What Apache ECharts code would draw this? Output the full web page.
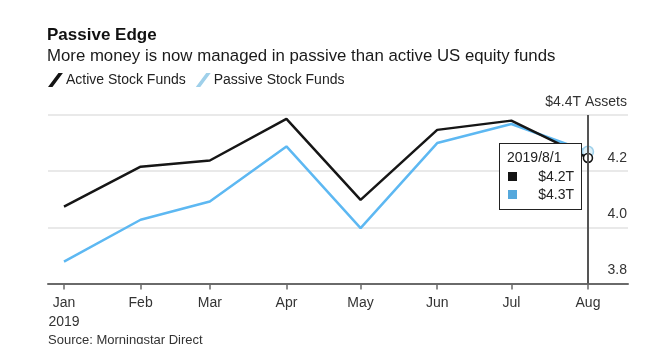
<!DOCTYPE html>
<html>
<head>
<meta charset="utf-8">
<script src="https://cdn.jsdelivr.net/npm/echarts@6/dist/echarts.min.js"></script>
<style>
  html, body { margin: 0; padding: 0; background: #fff; }
  #chart { width: 660px; height: 344px; }
</style>
</head>
<body>
<div id="chart"></div>
<script>
// Month-start dates and fund assets (trillions of US dollars)
const dates = ['2019-01-01', '2019-02-01', '2019-03-01', '2019-04-01',
               '2019-05-01', '2019-06-01', '2019-07-01', '2019-08-01'];
const activeAssets  = [4.074, 4.216, 4.238, 4.386, 4.098, 4.347, 4.380, 4.247];
const passiveAssets = [3.878, 4.027, 4.092, 4.288, 3.997, 4.300, 4.368, 4.269];
const seriesNames = ['Active Stock Funds', 'Passive Stock Funds'];
const monthLabels = ['Jan', 'Feb', 'Mar', 'Apr', 'May', 'Jun', 'Jul', 'Aug'];
const yTicks = [3.8, 4.0, 4.2, 4.4];

const FONT = '"Liberation Sans", Arial, Helvetica, sans-serif';
const CSS_FONT = FONT.replace(/"/g, "'");
const BLACK = '#141414';
const BLUE = '#55a8dc';
const DAY = 86400000;

const toTime = s => { const [y, m, d] = s.split('-').map(Number); return new Date(y, m - 1, d).getTime(); };
const tickTimes = dates.map(toTime);
const axisMin = tickTimes[0] - 6.47 * DAY;
const axisMax = tickTimes[tickTimes.length - 1] + 16.2 * DAY;

// thin slanted stroke used as the legend key
const slash = 'path://M0,11 L1.8,11 L10,0 L8.2,0 Z';

const chart = echarts.init(document.getElementById('chart'), null, { renderer: 'canvas' });

chart.setOption({
  animation: false,
  backgroundColor: '#fff',
  textStyle: { fontFamily: FONT },
  title: {
    text: 'Passive Edge',
    subtext: 'More money is now managed in passive than active US equity funds',
    left: 42,
    top: 22,
    itemGap: 4,
    textStyle: { fontFamily: FONT, fontSize: 17, fontWeight: 'bold', color: '#111' },
    subtextStyle: { fontFamily: FONT, fontSize: 16.8, color: '#1a1a1a' }
  },
  legend: {
    left: 49,
    top: 73,
    padding: 0,
    icon: slash,
    itemWidth: 11,
    itemHeight: 12,
    itemGap: 11,
    textStyle: { fontFamily: FONT, fontSize: 14, color: '#222' },
    data: seriesNames
  },
  grid: { left: 48, right: 32, top: 115, bottom: 60.5, containLabel: false },
  tooltip: {
    trigger: 'axis',
    alwaysShowContent: true,
    transitionDuration: 0,
    backgroundColor: '#fff',
    borderColor: '#222',
    borderWidth: 1,
    borderRadius: 0,
    padding: [4, 7, 6, 7],
    extraCssText: 'box-shadow:none;width:67px;',
    position: () => [499, 143],
    axisPointer: {
      type: 'line',
      lineStyle: { color: '#555', width: 2, type: 'solid' },
      label: { show: false }
    },
    formatter: params => {
      const t = new Date(params[0].value[0]);
      const head = t.getFullYear() + '/' + (t.getMonth() + 1) + '/' + t.getDate();
      const colors = [BLACK, BLUE];
      let html = '<div style="font:14px ' + CSS_FONT + ';color:#222;line-height:19px">' + head + '</div>';
      params.forEach(p => {
        html += '<div style="display:flex;justify-content:space-between;align-items:center;font:14px ' +
          CSS_FONT + ';color:#222;line-height:18px">' +
          '<span style="display:inline-block;width:9px;height:9px;margin-left:1px;background:' + colors[p.seriesIndex] + '"></span>' +
          '<span>$' + p.value[1].toFixed(1) + 'T</span></div>';
      });
      return html;
    }
  },
  xAxis: {
    type: 'value',
    min: axisMin,
    max: axisMax,
    axisLine: { show: true, lineStyle: { color: '#6a6a6a', width: 2 } },
    axisTick: { show: true, customValues: tickTimes, length: 6, lineStyle: { color: '#6a6a6a', width: 1.5 } },
    axisLabel: {
      customValues: tickTimes,
      margin: 10,
      fontFamily: FONT,
      fontSize: 14,
      color: '#333',
      lineHeight: 19,
      formatter: v => {
        const i = tickTimes.indexOf(v);
        const name = i >= 0 ? monthLabels[i] : '';
        return i === 0 ? name + '\n' + new Date(v).getFullYear() : name;
      }
    },
    splitLine: { show: false }
  },
  yAxis: {
    type: 'value',
    position: 'right',
    min: yTicks[0],
    max: yTicks[yTicks.length - 1],
    interval: 0.2,
    axisLine: { show: false },
    axisTick: { show: false },
    axisLabel: {
      inside: true,
      margin: 1,
      align: 'right',
      verticalAlign: 'bottom',
      lineHeight: 26,
      fontFamily: FONT,
      fontSize: 14,
      color: '#333',
      formatter: v => {
        const s = v.toFixed(1);
        return Math.abs(v - yTicks[yTicks.length - 1]) < 1e-9 ? '$' + s + 'T Assets' : s;
      }
    },
    splitLine: { show: true, lineStyle: { color: '#e2e2e2', width: 1.5 } }
  },
  series: [
    {
      name: seriesNames[0],
      type: 'line',
      data: dates.map((d, i) => [toTime(d), activeAssets[i]]),
      showSymbol: false,
      symbol: 'circle',
      symbolSize: 9,
      color: BLACK,
      lineStyle: { color: BLACK, width: 2.5 },
      itemStyle: { color: '#fff', borderColor: BLACK, borderWidth: 1.5 },
      emphasis: { scale: false, lineStyle: { width: 2.5 }, itemStyle: { color: '#fff', borderColor: BLACK, borderWidth: 1.5 } },
      z: 3
    },
    {
      name: seriesNames[1],
      type: 'line',
      data: dates.map((d, i) => [toTime(d), passiveAssets[i]]),
      showSymbol: false,
      symbol: 'circle',
      symbolSize: 11,
      color: BLUE,
      lineStyle: { color: BLUE, width: 2.5 },
      itemStyle: { color: '#dff0f8', borderColor: '#9fd0ea', borderWidth: 1.5 },
      emphasis: { scale: false, lineStyle: { width: 2.5 }, itemStyle: { color: '#dff0f8', borderColor: '#9fd0ea', borderWidth: 1.5 } },
      z: 2
    }
  ],
  graphic: [
    {
      type: 'text',
      left: 48,
      top: 334,
      style: { text: 'Source: Morningstar Direct', font: '13px ' + FONT, fill: '#333' }
    }
  ]
});

chart.dispatchAction({ type: 'showTip', seriesIndex: 0, dataIndex: dates.length - 1 });
</script>
</body>
</html>
